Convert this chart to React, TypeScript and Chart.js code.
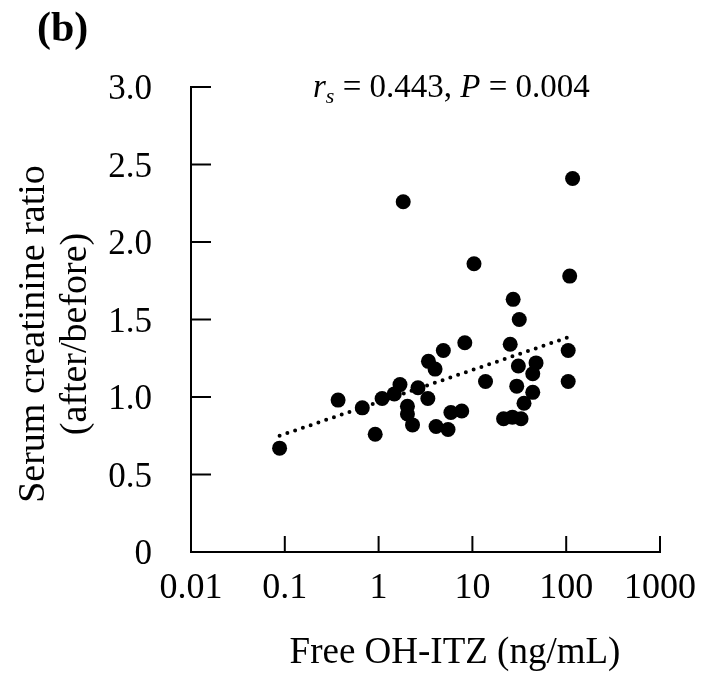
import { useEffect, useRef } from 'react';
import { Chart, registerables } from 'chart.js';

Chart.register(...registerables);

const freeOhItz = [
  0.088, 0.37, 0.67, 0.92, 1.09, 1.47, 1.69, 1.83, 2.03, 2.03,
  2.3, 2.63, 3.35, 3.4, 4.0, 4.1, 4.9, 5.5, 5.9, 7.7,
  8.3, 10.4, 13.8, 21.5, 25.3, 26.7, 27.2, 29.7, 30.9, 31.6,
  33, 35.5, 44, 44, 47.7, 105, 105, 109, 117,
];
const creatinineRatio = [
  0.67, 0.98, 0.93, 0.76, 0.99, 1.02, 1.08, 2.26, 0.94, 0.89,
  0.82, 1.06, 0.99, 1.23, 1.18, 0.81, 1.30, 0.79, 0.90, 0.91,
  1.35, 1.86, 1.10, 0.86, 1.34, 0.87, 1.63, 1.07, 1.20, 1.50,
  0.86, 0.96, 1.15, 1.03, 1.22, 1.30, 1.10, 1.78, 2.41,
];
const trendX = [0.088, 111];
const trendY = [0.75, 1.39];

const xTicks = [0.01, 0.1, 1, 10, 100, 1000];
const xTickLabels = ['0.01', '0.1', '1', '10', '100', '1000'];
const yTicks = [0, 0.5, 1, 1.5, 2, 2.5, 3];
const yTickLabels = ['0', '0.5', '1.0', '1.5', '2.0', '2.5', '3.0'];

const xTitle = 'Free OH-ITZ (ng/mL)';
const yTitleLines = ['Serum creatinine ratio', '(after/before)'];
const panelLabel = '(b)';

const SERIF = "'Liberation Serif', 'Times New Roman', serif";

const decor = {
  id: 'decor',
  afterDraw(chart: any) {
    const { ctx, chartArea, scales } = chart;
    ctx.save();
    ctx.strokeStyle = '#000';
    ctx.fillStyle = '#000';
    ctx.lineWidth = 2;
    // inward tick marks
    yTicks.forEach((v) => {
      if (v === yTicks[0]) return;
      const y = scales.y.getPixelForValue(v);
      ctx.beginPath();
      ctx.moveTo(chartArea.left, y);
      ctx.lineTo(chartArea.left + 20, y);
      ctx.stroke();
    });
    xTicks.forEach((v) => {
      if (v === xTicks[0]) return;
      const x = scales.x.getPixelForValue(v);
      ctx.beginPath();
      ctx.moveTo(x, chartArea.bottom);
      ctx.lineTo(x, chartArea.bottom - 16);
      ctx.stroke();
    });

    // x title
    ctx.font = `37px ${SERIF}`;
    ctx.textAlign = 'center';
    ctx.textBaseline = 'alphabetic';
    ctx.fillText(xTitle, 455, 663);

    // y title (two lines, rotated)
    ctx.font = `38px ${SERIF}`;
    const yCenter = 334;
    [44, 86].forEach((bx, i) => {
      ctx.save();
      ctx.translate(bx, yCenter);
      ctx.rotate(-Math.PI / 2);
      ctx.textAlign = 'center';
      ctx.fillText(yTitleLines[i], 0, 0);
      ctx.restore();
    });

    // panel label
    ctx.font = `bold 42px ${SERIF}`;
    ctx.textAlign = 'left';
    ctx.fillText(panelLabel, 37, 41);

    // correlation annotation
    const segs: [string, string, number][] = [
      ['r', `italic 33px ${SERIF}`, 0],
      ['s', `italic 22px ${SERIF}`, 6],
      [' = 0.443, ', `33px ${SERIF}`, 0],
      ['P', `italic 33px ${SERIF}`, 0],
      [' = 0.004', `33px ${SERIF}`, 0],
    ];
    let x = 313;
    const base = 97;
    ctx.textAlign = 'left';
    segs.forEach(([t, f, dy]) => {
      ctx.font = f;
      ctx.fillText(t, x, base + dy);
      x += ctx.measureText(t).width;
    });
    ctx.restore();
  },
};

export default function App() {
  const ref = useRef<HTMLCanvasElement | null>(null);
  useEffect(() => {
    if (!ref.current) return;
    const chart = new Chart(ref.current, {
      type: 'scatter',
      data: {
        datasets: [
          {
            type: 'scatter',
            data: freeOhItz.map((v, i) => ({ x: v, y: creatinineRatio[i] })),
            backgroundColor: '#000',
            borderWidth: 0,
            pointRadius: 7.5,
            pointHoverRadius: 7.5,
          },
          {
            type: 'line',
            data: trendX.map((v, i) => ({ x: v, y: trendY[i] })),
            borderColor: '#000',
            borderWidth: 4,
            borderDash: [0, 8.2],
            borderCapStyle: 'round',
            pointRadius: 0,
            fill: false,
          } as any,
        ],
      },
      options: {
        responsive: false,
        animation: false,
        layout: { padding: { left: 0, right: 46, top: 87, bottom: 0 } },
        plugins: { legend: { display: false }, tooltip: { enabled: false } },
        scales: {
          x: {
            type: 'logarithmic',
            min: 0.01,
            max: 1000,
            afterBuildTicks: (s: any) => {
              s.ticks = xTicks.map((v) => ({ value: v }));
            },
            afterFit: (s: any) => {
              s.height = 126;
            },
            ticks: {
              callback: (_v: any, i: number) => xTickLabels[i],
              font: { family: SERIF, size: 36 },
              color: '#000',
              padding: 15,
              maxRotation: 0,
              autoSkip: false,
            },
            grid: { display: false, drawTicks: false },
            border: { display: true, color: '#000', width: 2 },
          },
          y: {
            type: 'linear',
            min: 0,
            max: 3,
            afterBuildTicks: (s: any) => {
              s.ticks = yTicks.map((v) => ({ value: v }));
            },
            afterFit: (s: any) => {
              s.width = 191;
            },
            ticks: {
              callback: (_v: any, i: number) => yTickLabels[i],
              font: { family: SERIF, size: 35 },
              color: '#000',
              padding: 39,
              labelOffset: 3,
              autoSkip: false,
            },
            grid: { display: false, drawTicks: false },
            border: { display: true, color: '#000', width: 2 },
          },
        },
      },
      plugins: [decor],
    });
    return () => chart.destroy();
  }, []);
  return (
    <div style={{ position: 'absolute', left: 0, top: 0, width: 711, height: 678, background: '#fff' }}>
      <canvas ref={ref} width={711} height={678} />
    </div>
  );
}
